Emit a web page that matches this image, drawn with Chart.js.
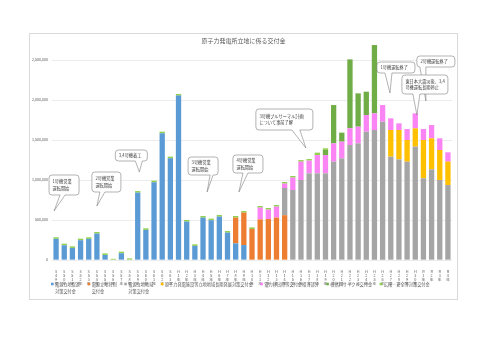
<!DOCTYPE html>
<html>
<head>
<meta charset="utf-8">
<script src="https://cdn.jsdelivr.net/npm/chart.js@4"></script>
<style>
  html, body { margin: 0; padding: 0; background: #fff; width: 500px; height: 353px; overflow: hidden; }
  #frame { position: absolute; left: 29px; top: 33px; width: 429px; height: 267px; border: 1px solid #d9d9d9; box-sizing: border-box; }
  #c { position: absolute; left: 29px; top: 33px; }
</style>
</head>
<body>
<div id="frame"></div>
<canvas id="c" width="429" height="267"></canvas>
<script>
(() => {
  "use strict";

  // ── data (fiscal years S49 .. R4) ─────────────────────────────────
  const years = [
    "S49", "S50", "S51", "S52", "S53", "S54", "S55", "S56", "S57", "S58",
    "S59", "S60", "S61", "S62", "S63", "H1", "H2", "H3", "H4", "H5",
    "H6", "H7", "H8", "H9", "H10", "H11", "H12", "H13", "H14", "H15",
    "H16", "H17", "H18", "H19", "H20", "H21", "H22", "H23", "H24", "H25",
    "H26", "H27", "H28", "H29", "H30", "R1", "R2", "R3", "R4",
  ];

  const sokushin = [
    264000, 184000, 151000, 247000, 264000, 330000, 63000, 0, 84000, 0,
    842000, 376000, 972000, 1584000, 1272000, 2055000, 480000, 176000, 530000, 497000,
    542000, 342000, 208000, 187000, 0, 0, 0, 0, 0, 0,
    0, 0, 0, 0, 0, 0, 0, 0, 0, 0,
    0, 0, 0, 0, 0, 0, 0, 0, 0,
  ];
  const tokubetsu = [
    0, 0, 0, 0, 0, 0, 0, 0, 0, 0,
    0, 0, 0, 0, 0, 0, 0, 0, 0, 0,
    0, 0, 322000, 405000, 388000, 508000, 512000, 530000, 560000, 0,
    0, 0, 0, 0, 0, 0, 0, 0, 0, 0,
    0, 0, 0, 0, 0, 0, 0, 0, 0,
  ];
  const chiiki = [
    0, 0, 0, 0, 0, 0, 0, 0, 0, 0,
    0, 0, 0, 0, 0, 0, 0, 0, 0, 0,
    0, 0, 0, 0, 0, 0, 0, 0, 340000, 875000,
    1000000, 1083000, 1083000, 1083000, 1229000, 1271000, 1437000, 1458000, 1604000, 1625000,
    1729000, 1292000, 1258000, 1229000, 1417000, 1021000, 1133000, 1000000, 937000,
  ];
  const choki = [
    0, 0, 0, 0, 0, 0, 0, 0, 0, 0,
    0, 0, 0, 0, 0, 0, 0, 0, 0, 0,
    0, 0, 0, 0, 0, 0, 0, 0, 0, 0,
    0, 0, 0, 0, 0, 0, 0, 0, 0, 0,
    0, 333000, 367000, 271000, 229000, 479000, 388000, 375000, 292000,
  ];
  const ishutsu = [
    0, 0, 0, 0, 0, 0, 0, 0, 0, 0,
    0, 0, 0, 0, 0, 0, 0, 0, 0, 0,
    0, 0, 0, 0, 0, 147000, 118000, 137000, 55000, 155000,
    229000, 159000, 229000, 229000, 229000, 208000, 209000, 209000, 208000, 208000,
    208000, 146000, 83000, 137000, 187000, 137000, 166000, 146000, 117000,
  ];
  const cycle = [
    0, 0, 0, 0, 0, 0, 0, 0, 0, 0,
    0, 0, 0, 0, 0, 0, 0, 0, 0, 0,
    0, 0, 0, 0, 0, 0, 0, 0, 0, 0,
    0, 0, 0, 64000, 479000, 113000, 862000, 416000, 292000, 854000,
    0, 0, 0, 0, 0, 0, 0, 0, 0,
  ];
  const koho = [
    20000, 20000, 20000, 20000, 20000, 20000, 20000, 15000, 20000, 20000,
    20000, 20000, 20000, 20000, 20000, 20000, 20000, 20000, 20000, 20000,
    20000, 20000, 20000, 20000, 20000, 20000, 20000, 20000, 20000, 20000,
    20000, 20000, 30000, 20000, 0, 0, 0, 0, 0, 0,
    0, 0, 0, 0, 0, 0, 0, 0, 0,
  ];

  const seriesNames = [
    ["電源立地促進", "対策交付金"],
    ["電源立地特別", "交付金"],
    ["電源立地地域", "対策交付金"],
    ["原子力発電施設等立地地域長期発展対策交付金"],
    ["電力移出県等交付金相当部分"],
    ["核燃料サイクル交付金"],
    ["広報・安全等対策交付金"],
  ];
  const seriesColors = ["#5b9bd5", "#ed7d31", "#a5a5a5", "#ffc000", "#fa84f4", "#70ad47", "#92d050"];
  const seriesData = [sokushin, tokubetsu, chiiki, choki, ishutsu, cycle, koho];

  const yTicks = [0, 500000, 1000000, 1500000, 2000000, 2500000];

  // callouts: tip at (category index, value), box offset from tip in px
  const callouts = [
    { i: -0.25, v: 612500, lines: ["1号機営業", "運転開始"], box: [-5, -36, 30, 20], base: [11, 16] },
    { i: 5.0, v: 675000, lines: ["2号機営業", "運転開始"], box: [-5, -34, 29, 20], base: [8, 13] },
    { i: 10.2, v: 1100000, lines: ["3,4号機着工"], box: [-24, -22, 32, 11], base: [20, 27] },
    { i: 18.5, v: 850000, lines: ["3号機営業", "運転開始"], box: [-19, -35, 30, 18], base: [22, 25] },
    { i: 22.4, v: 850000, lines: ["4号機営業", "運転開始"], box: [-6, -37, 30, 18], base: [10, 15] },
    { i: 30.6, v: 1400000, lines: ["3号機プルサーマル計画", "について事前了解"], box: [-50, -39, 57, 21], base: [36, 44] },
    { i: 40.9, v: 2087500, lines: ["1号機運転終了"], box: [-13, -31, 38, 11], base: [8, 15] },
    { i: 45.3, v: 1987500, lines: ["2号機運転終了"], box: [-9, -45, 38, 11], base: [3, 9] },
    { i: 44.2, v: 1812500, lines: ["東日本大震災後、3,4", "号機運転長期停止"], box: [-15, -40, 46, 19], base: [11, 18] },
  ];

  const titleText = "原子力発電所立地に係る交付金";

  Chart.defaults.font.family = "'Noto Sans CJK JP', 'Noto Sans', sans-serif";
  Chart.defaults.color = "#595959";

  const textColor = "#595959";

  function bubble(ctx, x, y, w, h, r, b1, b2, tx, ty) {
    ctx.beginPath();
    ctx.moveTo(x + r, y);
    ctx.lineTo(x + w - r, y);
    ctx.arcTo(x + w, y, x + w, y + r, r);
    ctx.lineTo(x + w, y + h - r);
    ctx.arcTo(x + w, y + h, x + w - r, y + h, r);
    ctx.lineTo(x + b2, y + h);
    ctx.lineTo(tx, ty);
    ctx.lineTo(x + b1, y + h);
    ctx.lineTo(x + r, y + h);
    ctx.arcTo(x, y + h, x, y + h - r, r);
    ctx.lineTo(x, y + r);
    ctx.arcTo(x, y, x + r, y, r);
    ctx.closePath();
    ctx.fill();
    ctx.stroke();
  }

  const extras = {
    id: "extras",
    afterDraw(chart) {
      const { ctx, chartArea, scales } = chart;
      const fam = Chart.defaults.font.family;
      ctx.save();

      // title
      ctx.fillStyle = textColor;
      ctx.font = "6px " + fam;
      ctx.textAlign = "center";
      ctx.textBaseline = "middle";
      ctx.fillText(titleText, chart.width / 2, 8);

      // callouts
      ctx.lineWidth = 0.6;
      for (const c of callouts) {
        const tx = scales.x.getPixelForValue(c.i);
        const ty = scales.y.getPixelForValue(c.v);
        const [dx, dy, w, h] = c.box;
        ctx.fillStyle = "#ffffff";
        ctx.strokeStyle = "#7f7f7f";
        bubble(ctx, tx + dx, ty + dy, w, h, 3, c.base[0], c.base[1], tx, ty);
        ctx.fillStyle = "#404040";
        ctx.font = "4.2px " + fam;
        ctx.textAlign = "left";
        const lh = 6.5;
        const y0 = ty + dy + h / 2 - ((c.lines.length - 1) * lh) / 2;
        c.lines.forEach((ln, k) => ctx.fillText(ln, tx + dx + 3.5, y0 + k * lh));
      }

      // legend
      ctx.font = "4.2px " + fam;
      ctx.textAlign = "left";
      let x = chartArea.left - 1;
      const y = chartArea.bottom + 24;
      seriesNames.forEach((lines, k) => {
        ctx.fillStyle = seriesColors[k];
        ctx.fillRect(x, y - 1.3, 2.6, 2.6);
        ctx.fillStyle = textColor;
        let wmax = 0;
        lines.forEach((ln, j) => {
          ctx.fillText(ln, x + 4, y + j * 7);
          wmax = Math.max(wmax, ctx.measureText(ln).width);
        });
        x += 4 + wmax + 7.5;
      });

      ctx.restore();
    },
  };

  new Chart(document.getElementById("c"), {
    type: "bar",
    data: {
      labels: years.map((s) => (s + "年").split("")),
      datasets: seriesData.map((d, k) => ({
        label: seriesNames[k].join(""),
        data: d,
        backgroundColor: seriesColors[k],
        borderWidth: 0,
        categoryPercentage: 0.65,
        barPercentage: 1,
      })),
    },
    options: {
      responsive: false,
      animation: false,
      devicePixelRatio: 1,
      layout: { padding: { top: 7, right: 6, bottom: 3, left: 0 } },
      plugins: {
        legend: { display: false },
        title: { display: false },
        tooltip: { enabled: false },
      },
      scales: {
        x: {
          stacked: true,
          grid: { display: false },
          border: { display: false },
          ticks: {
            autoSkip: false,
            maxRotation: 0,
            minRotation: 0,
            padding: 2,
            font: { size: 3.8, lineHeight: 1 },
          },
          afterFit: (s) => { s.height = 37; },
        },
        y: {
          stacked: true,
          min: 0,
          max: 2750000,
          grid: { color: "#e4e4e4", lineWidth: 0.7, drawTicks: false },
          border: { display: false },
          ticks: {
            stepSize: 500000,
            padding: 4,
            font: { size: 3.6 },
            callback: (v) => v.toLocaleString("en-US"),
          },
          afterBuildTicks: (s) => {
            s.ticks = yTicks.map((v) => ({ value: v }));
          },
          afterFit: (s) => { s.width = 23; },
        },
      },
    },
    plugins: [extras],
  });
})();
</script>
</body>
</html>
